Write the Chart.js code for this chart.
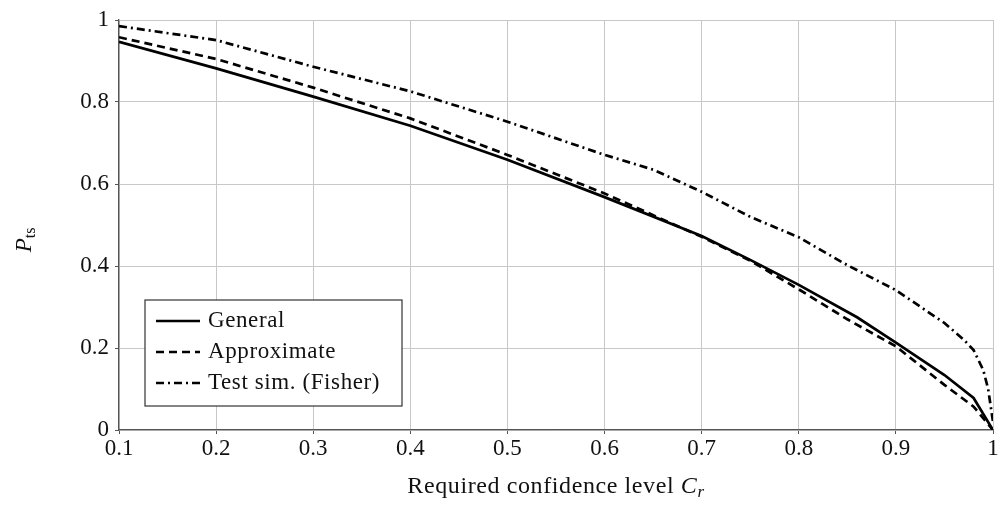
<!DOCTYPE html>
<html lang="en">
<head>
    <meta charset="UTF-8">
    <title>Pts vs confidence level</title>
    <style>
        body { margin: 0; background: #fff; }
        #wrap { width: 1006px; height: 505px; }
    </style>
</head>
<body>
    <div id="wrap"><canvas id="myChart" width="1006" height="505"></canvas></div>
    <script src="https://cdn.jsdelivr.net/npm/chart.js"></script>
    <script>
        // values
        const xTicks = [0.1, 0.2, 0.3, 0.4, 0.5, 0.6, 0.7, 0.8, 0.9, 1]
        const yTicks = [0, 0.2, 0.4, 0.6, 0.8, 1]

        const generalX = [0.1, 0.2, 0.3, 0.4, 0.5, 0.6, 0.7, 0.75, 0.8, 0.86, 0.9, 0.95, 0.98, 1]
        const generalY = [0.947, 0.882, 0.813, 0.742, 0.659, 0.568, 0.473, 0.415, 0.354, 0.275, 0.213, 0.134, 0.078, 0]

        const approxX = [0.1, 0.2, 0.3, 0.4, 0.5, 0.6, 0.7, 0.75, 0.8, 0.85, 0.9, 0.95, 0.98, 1]
        const approxY = [0.958, 0.905, 0.835, 0.760, 0.671, 0.577, 0.471, 0.413, 0.343, 0.270, 0.204, 0.110, 0.057, 0]

        const fisherX = [0.1, 0.2, 0.3, 0.4, 0.5, 0.6, 0.65, 0.7, 0.75, 0.8, 0.85, 0.9, 0.95, 0.97, 0.98, 0.99, 0.995, 1]
        const fisherY = [0.985, 0.951, 0.886, 0.826, 0.752, 0.671, 0.635, 0.581, 0.520, 0.470, 0.402, 0.341, 0.261, 0.220, 0.195, 0.146, 0.10, 0.02]

        const labels = ['General', 'Approximate', 'Test sim. (Fisher)']

        const font = '"Liberation Serif", serif'
        const pts = (xs, ys) => xs.map((x, i) => ({ x: x, y: ys[i] }))

        const mkSet = (label, data, dash) => ({
            label: label,
            data: data,
            borderColor: '#000',
            borderWidth: 2.7,
            borderDash: dash,
            pointRadius: 0,
            fill: false,
            tension: 0
        })

        // legend box + axis titles with italic / subscript parts
        const extras = {
            id: 'extras',
            afterDraw(chart) {
                const ctx = chart.ctx
                const a = chart.chartArea
                ctx.save()
                // legend
                const lx = 145, ly = 300, lw = 257, lh = 106
                ctx.fillStyle = '#fff'
                ctx.fillRect(lx, ly, lw, lh)
                ctx.strokeStyle = '#333'
                ctx.lineWidth = 1.2
                ctx.strokeRect(lx, ly, lw, lh)
                chart.data.datasets.forEach((ds, i) => {
                    const cy = ly + 21 + i * 31
                    ctx.beginPath()
                    ctx.setLineDash(ds.borderDash)
                    ctx.lineWidth = 2.7
                    ctx.strokeStyle = '#000'
                    ctx.moveTo(156, cy)
                    ctx.lineTo(200, cy)
                    ctx.stroke()
                    ctx.setLineDash([])
                    ctx.fillStyle = '#111'
                    ctx.font = '23px ' + font
                    ctx.letterSpacing = '0.6px'
                    ctx.textBaseline = 'middle'
                    ctx.textAlign = 'left'
                    ctx.fillText(ds.label, 208, cy)
                })
                // x title
                ctx.fillStyle = '#111'
                ctx.textBaseline = 'alphabetic'
                ctx.letterSpacing = '0.6px'
                ctx.font = '24px ' + font
                const t1 = 'Required confidence level '
                const w1 = ctx.measureText(t1).width
                ctx.font = 'italic 24px ' + font
                const w2 = ctx.measureText('C').width
                ctx.font = 'italic 17px ' + font
                const w3 = ctx.measureText('r').width
                let x0 = (a.left + a.right) / 2 - (w1 + w2 + w3) / 2
                ctx.font = '24px ' + font
                ctx.fillText(t1, x0, 493)
                ctx.font = 'italic 24px ' + font
                ctx.fillText('C', x0 + w1, 493)
                ctx.font = 'italic 17px ' + font
                ctx.fillText('r', x0 + w1 + w2, 497)
                // y title, rotated
                ctx.letterSpacing = '0px'
                ctx.translate(31, 240)
                ctx.rotate(-Math.PI / 2)
                ctx.font = 'italic 23px ' + font
                const wp = ctx.measureText('P').width
                ctx.font = '16px ' + font
                const wt = ctx.measureText('ts').width
                const s0 = -(wp + wt) / 2
                ctx.font = 'italic 23px ' + font
                ctx.fillText('P', s0, 0)
                ctx.font = '16px ' + font
                ctx.fillText('ts', s0 + wp, 4)
                ctx.restore()
                ctx.letterSpacing = '0px'
            }
        }

        const config = {
            type: 'line',
            data: {
                datasets: [
                    mkSet(labels[0], pts(generalX, generalY), []),
                    mkSet(labels[1], pts(approxX, approxY), [8, 5]),
                    mkSet(labels[2], pts(fisherX, fisherY), [8, 4, 2, 4])
                ]
            },
            options: {
                responsive: false,
                animation: false,
                layout: { padding: { top: 20, right: 13, left: 0, bottom: 0 } },
                plugins: { legend: { display: false }, tooltip: { enabled: false } },
                scales: {
                    x: {
                        type: 'linear',
                        min: 0.1,
                        max: 1,
                        afterBuildTicks: (s) => { s.ticks = xTicks.map(v => ({ value: v })) },
                        afterFit: (s) => { s.height = 75 },
                        ticks: {
                            color: '#111',
                            font: { family: font, size: 23 },
                            padding: 1,
                            maxRotation: 0,
                            callback: (v) => String(Math.round(v * 10) / 10)
                        },
                        grid: { color: '#c8c8c8', lineWidth: 1, tickLength: 4, tickColor: '#555' },
                        border: { color: '#555', width: 1.3 }
                    },
                    y: {
                        type: 'linear',
                        min: 0,
                        max: 1,
                        afterBuildTicks: (s) => { s.ticks = yTicks.map(v => ({ value: v })) },
                        afterFit: (s) => { s.width = 119 },
                        ticks: {
                            color: '#111',
                            font: { family: font, size: 23 },
                            padding: 6,
                            callback: (v) => String(Math.round(v * 10) / 10)
                        },
                        grid: { color: '#c8c8c8', lineWidth: 1, tickLength: 4, tickColor: '#555' },
                        border: { color: '#555', width: 1.3 }
                    }
                }
            },
            plugins: [extras]
        }

        const chart = new Chart(document.getElementById('myChart'), config)
    </script>
</body>
</html>
